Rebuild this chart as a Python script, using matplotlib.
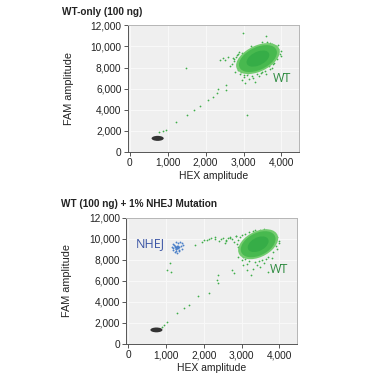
import numpy as np
from matplotlib import pyplot as plt
from matplotlib.patches import Circle
from matplotlib.transforms import Affine2D

plt.rcParams['font.family'] = ['Liberation Sans', 'DejaVu Sans']

""" DATA (read off the picture) """

titles = ["WT-only (100 ng)", "WT (100 ng) + 1% NHEJ Mutation"]
x_ticks = [0, 1000, 2000, 3000, 4000]
y_ticks = [0, 2000, 4000, 6000, 8000, 10000, 12000]

# dense clusters: centre x, centre y, sd x, sd y, correlation
wt_top = [3380, 8850, 250, 640, 0.45]
neg_top = [740, 1260, 80, 120, 0.0]
wt_bot = [3440, 9480, 230, 620, 0.4]
neg_bot = [750, 1330, 80, 115, 0.0]

# loose droplets around the WT cluster and along the diagonal
top_green_x = [2750, 2800, 2700, 2850, 2900, 3000, 3100, 3250, 3300, 2950, 3500, 3700,
               3800, 3950, 4000, 3900, 3700, 3600, 3500, 3200, 2600, 2500, 2650, 2780,
               3050, 3150, 3400, 3600, 3850, 3750, 2990, 3080, 2375, 2460, 2550, 2550,
               2330, 2290, 2200, 2070, 1850, 1690, 1520, 1230, 970, 880, 770, 1480,
               2820, 2880, 2760, 2940, 3020, 3120, 3220, 3350, 3450, 3560, 3680, 3780,
               3880, 3920, 3860, 3760, 3640, 3520, 3420, 3300, 3180, 3060, 2960, 2860,
               2980, 3040, 3160, 3280, 3620, 3820, 3990, 2720]
top_green_y = [8600, 9000, 8300, 7800, 7400, 7100, 7300, 7000, 6600, 6800, 7600, 7900,
               8400, 9300, 9600, 10100, 10300, 11000, 10400, 10000, 9000, 8700, 8100, 7600,
               6500, 6900, 7200, 7400, 9800, 8000, 11270, 3500, 8730, 8900, 5880, 6350,
               5940, 5560, 5240, 4920, 4350, 3970, 3500, 2860, 2070, 2000, 1900, 7940,
               9200, 9500, 8800, 7600, 7300, 7500, 7200, 7400, 7500, 7700, 8100, 8300,
               8800, 9800, 10050, 10200, 10250, 10150, 10000, 9850, 9700, 9500, 9400, 9300,
               7900, 7700, 7600, 7800, 10400, 9000, 9100, 8900]

bot_green_x = [2000, 2150, 2300, 2400, 2500, 2600, 2700, 2800, 2850, 2550, 2300, 2900,
               2950, 3000, 3050, 3150, 3300, 3500, 3600, 3800, 3950, 4000, 3950, 3800,
               3600, 3300, 3100, 2750, 2800, 3250, 3700, 1780, 1950, 2080, 2390, 2360,
               2390, 2130, 1860, 1600, 1470, 1290, 1030, 940, 900, 1120, 1140, 1030,
               2450, 2650, 2750, 2900, 2950, 2850, 2700, 2600, 3000, 3050, 3100, 3200,
               3350, 3450, 3550, 3700, 3820, 3900, 3980, 3900, 3750, 3650, 3500, 3350,
               3200, 3000, 2920, 2880, 3150, 3400, 3650, 2200]
bot_green_y = [9900, 10000, 9950, 9800, 10100, 9900, 10200, 9700, 10300, 9600, 10200, 9200,
               8600, 8000, 7500, 7000, 7100, 7300, 7700, 8200, 9000, 9600, 10200, 10600,
               10900, 10700, 10500, 7000, 6700, 6600, 6800, 9400, 9710, 9870, 6550, 6080,
               5760, 4810, 4560, 3700, 3390, 2910, 2120, 1800, 1590, 7720, 6870, 7030,
               10000, 10050, 9950, 9900, 10150, 10250, 10100, 9800, 8900, 8300, 8100, 7900,
               7800, 7900, 8000, 8300, 8700, 9300, 9800, 10300, 10700, 10800, 10850, 10800,
               10650, 10400, 8300, 9500, 7600, 7500, 8100, 10100]

nhej_x = [1290, 1270, 1310, 1250, 1330, 1300, 1280, 1240, 1350, 1220, 1360, 1200, 1400,
          1180, 1420, 1260, 1320, 1230, 1380, 1150, 1450, 1300, 1270, 1340, 1190, 1430,
          1280, 1300, 1260, 1310]
nhej_y = [9200, 9150, 9250, 9300, 9100, 9350, 9050, 9200, 9250, 9400, 8950, 9100, 9300,
          9500, 9050, 8850, 9550, 8700, 9650, 9250, 9400, 8600, 9700, 8800, 8900, 9600,
          9000, 9100, 9250, 9300]

wt_label_pos = [[4020, 7000], [4000, 7100]]
nhej_label_pos = [600, 9550]

""" COLOURS """
bg = '#efefef'
green_out = '#72cb6e'
green_mid = '#48b94f'
green_core = '#36ad47'
dark = '#333333'


def cluster_blob(ax, c, n_sd, color, z):
    # ellipse of the cluster covariance, drawn in data coordinates
    cx, cy, sx, sy, r = c
    m = np.array([[n_sd * sx, 0, cx],
                  [n_sd * r * sy, n_sd * sy * np.sqrt(1 - r * r), cy],
                  [0, 0, 1]])
    ax.add_patch(Circle((0, 0), 1, facecolor=color, edgecolor='none',
                        transform=Affine2D(m) + ax.transData, zorder=z))


fig = plt.figure(figsize=(3.7, 3.8), dpi=100)
ax1 = fig.add_axes([0.345, 0.601, 0.463, 0.332])
ax2 = fig.add_axes([0.341, 0.095, 0.461, 0.332])

for i, ax in enumerate([ax1, ax2]):
    ax.set_facecolor(bg)
    ax.set_xlim(-50, 4460)
    ax.set_ylim(0, 12000)
    ax.set_xticks(x_ticks)
    ax.set_yticks(y_ticks)
    ax.set_xticklabels(["{:,}".format(t) for t in x_ticks])
    ax.set_yticklabels(["{:,}".format(t) for t in y_ticks])
    ax.grid(True, color='#f9f9f9', lw=0.7)
    ax.set_axisbelow(True)
    ax.tick_params(labelsize=7.3, length=3, width=0.7, color='#555555', pad=1.5, labelcolor='#222222')
    ax.spines['left'].set_color('#555555')
    ax.spines['bottom'].set_color('#555555')
    ax.spines['top'].set_color('#b5b5b5')
    ax.spines['right'].set_color('#b5b5b5')
    for s in ax.spines.values():
        s.set_linewidth(0.7)
    ax.set_xlabel("HEX amplitude", fontsize=7.5, labelpad=2, color='#222222')
    ax.set_ylabel("FAM amplitude", fontsize=7.8, labelpad=12, color='#222222')
    ax.text(-0.384, 1.11, titles[i], transform=ax.transAxes, fontsize=7.2,
            fontweight='bold', color='#222222', va='center')

# top: WT only
ax1.scatter(top_green_x, top_green_y, s=1.6, color='#3fae4a', lw=0, zorder=3)
cluster_blob(ax1, wt_top, 2.3, green_out, 4)
cluster_blob(ax1, wt_top, 2.0, green_mid, 5)
cluster_blob(ax1, wt_top, 1.2, green_core, 6)
cluster_blob(ax1, neg_top, 2.0, dark, 5)
ax1.text(wt_label_pos[0][0], wt_label_pos[0][1], "WT", fontsize=9, color='#2e8b40',
         ha='center', va='center', family=['Open Sans', 'DejaVu Sans'])

# bottom: WT + NHEJ
ax2.scatter(bot_green_x, bot_green_y, s=1.6, color='#3fae4a', lw=0, zorder=3)
ax2.scatter(nhej_x, nhej_y, s=1.8, color='#4a7fc8', lw=0, zorder=3)
cluster_blob(ax2, wt_bot, 2.3, green_out, 4)
cluster_blob(ax2, wt_bot, 2.0, green_mid, 5)
cluster_blob(ax2, wt_bot, 1.2, green_core, 6)
cluster_blob(ax2, neg_bot, 2.0, dark, 5)
ax2.text(wt_label_pos[1][0], wt_label_pos[1][1], "WT", fontsize=9, color='#2e8b40',
         ha='center', va='center', family=['Open Sans', 'DejaVu Sans'])
ax2.text(nhej_label_pos[0], nhej_label_pos[1], "NHEJ", fontsize=9, color='#3b55a5',
         ha='center', va='center', family=['Open Sans', 'DejaVu Sans'])

fig.savefig("out.png", dpi=100)
